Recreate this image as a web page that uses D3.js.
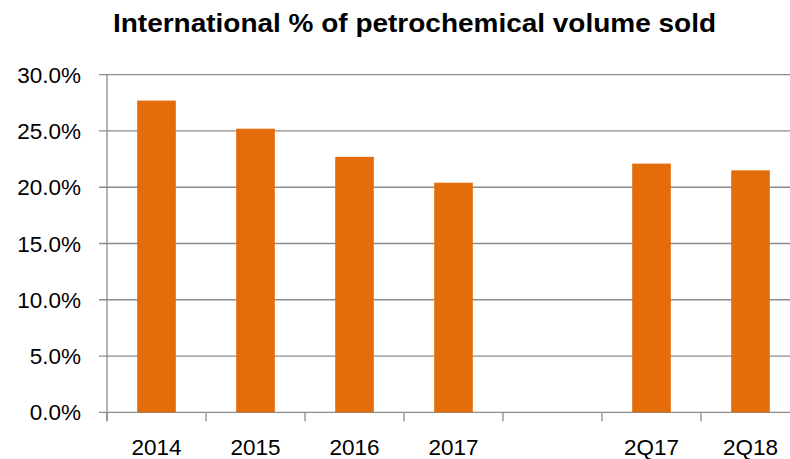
<!DOCTYPE html>
<html>
<head>
<meta charset="utf-8">
<script src="https://cdn.jsdelivr.net/npm/d3@7"></script>
<style>
  html, body { margin: 0; padding: 0; background: #fff; overflow: hidden; }
  svg { display: block; }
</style>
</head>
<body>
<svg id="chart" width="790" height="459"></svg>
<script>
const categories = ["2014", "2015", "2016", "2017", "", "2Q17", "2Q18"];
const values = [27.7, 25.2, 22.7, 20.4, null, 22.1, 21.5];
const yTicks = [0, 5, 10, 15, 20, 25, 30];
const title = "International % of petrochemical volume sold";

(function () {
const svg = d3.select("#chart");
const plotLeft = 107, plotRight = 800, plotTop = 74.7, plotBottom = 412.3;
const grid = "#8c8c8c";
const barColor = "#E46C0A";
const font = "'Liberation Sans', Arial, sans-serif";

const x = d3.scaleBand().domain(categories).range([plotLeft, plotRight])
  .paddingInner(0.61).paddingOuter(0.305);
const y = d3.scaleLinear().domain([0, 30]).range([plotBottom, plotTop]);

// gridlines
svg.append("g").selectAll("line").data(yTicks).join("line")
  .attr("x1", plotLeft - 8).attr("x2", plotRight)
  .attr("y1", d => y(d)).attr("y2", d => y(d))
  .attr("stroke", grid).attr("stroke-width", 1.3);

// y axis line
svg.append("line").attr("x1", plotLeft).attr("x2", plotLeft)
  .attr("y1", y(30)).attr("y2", plotBottom + 9)
  .attr("stroke", grid).attr("stroke-width", 1.3);

// x tick marks at band boundaries
const step = x.step();
const bounds = d3.range(categories.length + 1).map(i => plotLeft + i * step);
svg.append("g").selectAll("line").data(bounds).join("line")
  .attr("x1", d => d).attr("x2", d => d)
  .attr("y1", plotBottom).attr("y2", plotBottom + 9)
  .attr("stroke", grid).attr("stroke-width", 1.3);

// y labels
svg.append("g").selectAll("text").data(yTicks).join("text")
  .attr("x", 81).attr("y", d => y(d)).attr("dy", "0.36em")
  .attr("text-anchor", "end")
  .attr("font-family", font).attr("font-size", 22.5).attr("fill", "#000")
  .text(d => d3.format(".1f")(d) + "%");

// bars
const data = categories.map((c, i) => ({ c, v: values[i] })).filter(d => d.v != null);
svg.append("g").selectAll("rect").data(data).join("rect")
  .attr("x", d => x(d.c)).attr("width", x.bandwidth())
  .attr("y", d => y(d.v)).attr("height", d => plotBottom - y(d.v))
  .attr("fill", barColor);

// x labels
svg.append("g").selectAll("text").data(categories.filter(c => c !== "")).join("text")
  .attr("x", d => x(d) + x.bandwidth() / 2).attr("y", 455)
  .attr("text-anchor", "middle")
  .attr("font-family", font).attr("font-size", 22.5).attr("fill", "#000")
  .text(d => d);

// title
svg.append("text")
  .attr("x", 414.5).attr("y", 32)
  .attr("text-anchor", "middle")
  .attr("font-family", font).attr("font-weight", "bold").attr("font-size", 26)
  .attr("textLength", 603).attr("lengthAdjust", "spacingAndGlyphs")
  .attr("fill", "#000")
  .text(title);
})();
</script>
</body>
</html>
